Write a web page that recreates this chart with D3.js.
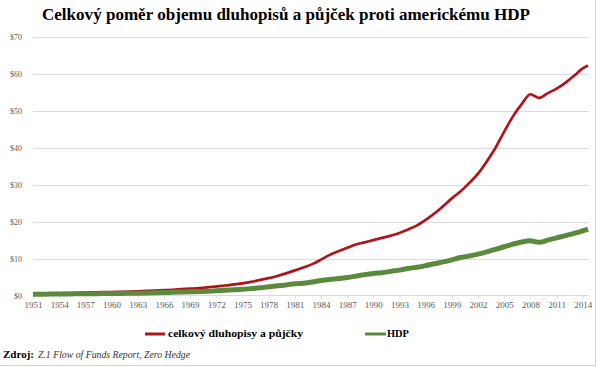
<!DOCTYPE html>
<html><head><meta charset="utf-8">
<script src="https://cdn.jsdelivr.net/npm/d3@7"></script>
<style>body{margin:0;background:#fff}svg{display:block}</style>
</head><body>
<script>
const years = [1951,1952,1953,1954,1955,1956,1957,1958,1959,1960,1961,1962,1963,1964,1965,1966,1967,1968,1969,1970,1971,1972,1973,1974,1975,1976,1977,1978,1979,1980,1981,1982,1983,1984,1985,1986,1987,1988,1989,1990,1991,1992,1993,1994,1995,1996,1997,1998,1999,2000,2001,2002,2003,2004,2005,2006,2007,2008,2009,2010,2011,2012,2013,2014,2014.6];
const debt = [0.45,0.5,0.55,0.6,0.65,0.7,0.8,0.85,0.9,0.95,1.0,1.05,1.15,1.25,1.35,1.45,1.55,1.7,1.85,2.0,2.2,2.45,2.7,3.0,3.3,3.7,4.2,4.7,5.3,6.0,6.8,7.6,8.5,9.7,11.0,12.0,12.9,13.8,14.4,15.0,15.6,16.2,16.9,17.9,19.0,20.5,22.2,24.2,26.3,28.2,30.5,33.0,36.3,40.0,44.4,48.5,51.8,54.5,53.5,54.8,56.0,57.6,59.5,61.5,62.3];
const gdp = [0.34,0.36,0.38,0.38,0.42,0.44,0.47,0.48,0.52,0.54,0.56,0.6,0.64,0.68,0.74,0.81,0.86,0.94,1.02,1.08,1.17,1.28,1.43,1.55,1.69,1.88,2.09,2.36,2.63,2.86,3.2,3.34,3.64,4.04,4.35,4.59,4.87,5.25,5.66,5.98,6.17,6.54,6.88,7.31,7.66,8.1,8.61,9.09,9.66,10.3,10.7,11.2,11.8,12.5,13.2,13.9,14.5,14.8,14.4,15.0,15.6,16.2,16.8,17.5,18.0];
const xTicks = d3.range(1951, 2015, 3);
const yTicks = [0,10,20,30,40,50,60,70];
const title = "Celkový poměr objemu dluhopisů a půjček proti americkému HDP";
const seriesNames = ["celkový dluhopisy a půjčky", "HDP"];
const colors = ["#b01319", "#5b8a3c"];

const W = 600, H = 367;
const svg = d3.select("body").append("svg").attr("width", W).attr("height", H);
svg.append("rect").attr("x",-1).attr("y",-1).attr("width",596.5).attr("height",366.5)
  .attr("fill","#fff").attr("stroke","#d4d4d4");

const x = d3.scaleLinear().domain([1951, 2014.6]).range([33, 588]);
const y = d3.scaleLinear().domain([0, 70]).range([295.5, 37]);

// gridlines
svg.append("g").selectAll("line").data(yTicks.slice(1)).join("line")
  .attr("x1", 33).attr("x2", 589).attr("y1", d => Math.round(y(d))+0.5).attr("y2", d => Math.round(y(d))+0.5)
  .attr("stroke", "#dcdcdc").attr("stroke-width", 1);

// y labels
svg.append("g").selectAll("text").data(yTicks).join("text")
  .attr("x", 22).attr("y", d => y(d) + 3).attr("text-anchor", "end")
  .attr("font-family", "Liberation Serif").attr("font-size", 8).attr("fill", "#595959")
  .text(d => "$" + d);

// x axis
const xAxis = d3.axisBottom(x).tickValues(xTicks).tickFormat(d3.format("d")).tickSize(3).tickPadding(3);
const gx = svg.append("g").attr("transform", "translate(0,295.5)").call(xAxis);
gx.select(".domain").attr("stroke", "#d9d9d9").attr("d", "M33,0H589");
gx.selectAll(".tick line").attr("stroke", "#d9d9d9");
gx.selectAll("text").attr("font-family", "Liberation Serif").attr("font-size", 9).attr("fill", "#595959");

const line = d3.line().x((d, i) => x(years[i])).y(d => y(d)).curve(d3.curveMonotoneX);
svg.append("path").datum(debt).attr("d", line).attr("fill", "none")
  .attr("stroke", colors[0]).attr("stroke-width", 2.7).attr("stroke-linejoin", "round");
svg.append("path").datum(gdp).attr("d", line).attr("fill", "none")
  .attr("stroke", colors[1]).attr("stroke-width", 5).attr("stroke-linejoin", "round");

// title
svg.append("text").attr("x", 42).attr("y", 20)
  .attr("font-family", "Liberation Serif").attr("font-weight", "bold").attr("font-size", 17)
  .attr("fill", "#000").attr("textLength", 488).attr("lengthAdjust", "spacingAndGlyphs").text(title);

// legend
const leg = [{x1:145, x2:165, tx:168, len:135}, {x1:365, x2:386, tx:387, len:22}];
leg.forEach((l, i) => {
  svg.append("line").attr("x1", l.x1).attr("x2", l.x2).attr("y1", 334).attr("y2", 334)
    .attr("stroke", colors[i]).attr("stroke-width", 3);
  svg.append("text").attr("x", l.tx).attr("y", 337)
    .attr("font-family", "Liberation Serif").attr("font-weight", "bold").attr("font-size", 11)
    .attr("textLength", l.len).attr("lengthAdjust", "spacingAndGlyphs")
    .attr("fill", "#000").text(seriesNames[i]);
});

// source
svg.append("text").attr("x", 3).attr("y", 358)
  .attr("font-family", "Liberation Serif").attr("font-weight", "bold").attr("font-size", 11)
  .attr("fill", "#000").text("Zdroj:");
svg.append("text").attr("x", 38).attr("y", 358)
  .attr("font-family", "Liberation Serif").attr("font-style", "italic").attr("font-size", 10)
  .attr("textLength", 152).attr("lengthAdjust", "spacingAndGlyphs")
  .attr("fill", "#333").text("Z.1 Flow of Funds Report, Zero Hedge");
</script>
</body></html>
